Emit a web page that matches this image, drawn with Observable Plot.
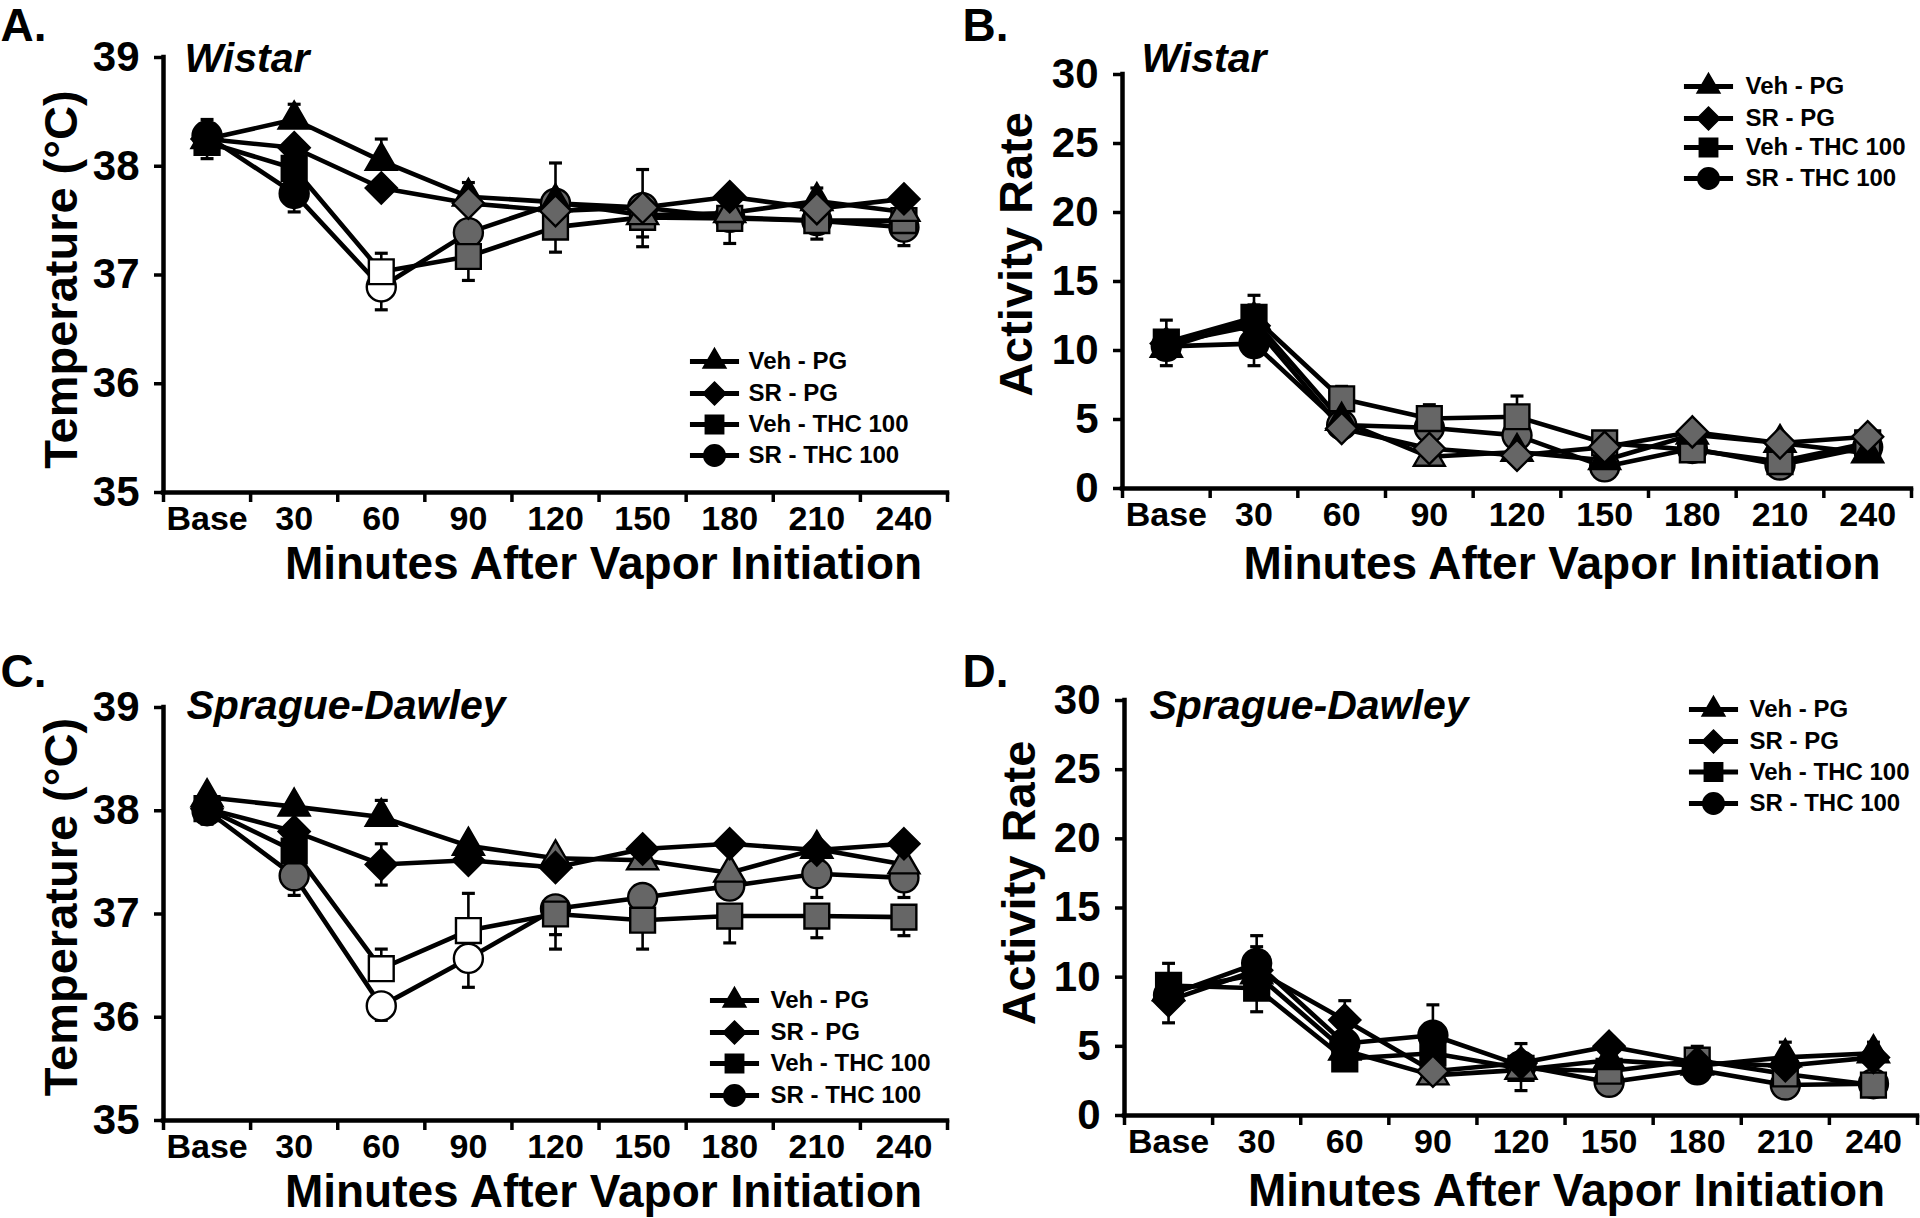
<!DOCTYPE html>
<html><head><meta charset="utf-8">
<script src="https://cdn.jsdelivr.net/npm/d3@7"></script>
<script src="https://cdn.jsdelivr.net/npm/@observablehq/plot@0.6"></script>
<style>
html,body{margin:0;padding:0;background:#fff;}
#fig{position:relative;width:1920px;height:1218px;overflow:hidden;background:#fff;}
#fig > svg{position:absolute;}
</style></head><body><div id="fig"></div>
<script>
// ---------- data ----------
const timeLabels = ["Base", "30", "60", "90", "120", "150", "180", "210", "240"];
const seriesNames = ["Veh - PG", "SR - PG", "Veh - THC 100", "SR - THC 100"];
const tempTicks = [35, 36, 37, 38, 39];
const activityTicks = [0, 5, 10, 15, 20, 25, 30];

// Panel A: Wistar temperature (°C)
const A_VehPG  = [38.25, 38.43, 38.05, 37.72, 37.67, 37.55, 37.57, 37.68, 37.58];
const A_SRPG   = [38.25, 38.17, 37.80, 37.66, 37.59, 37.62, 37.72, 37.61, 37.70];
const A_VehTHC = [38.22, 37.98, 37.03, 37.17, 37.44, 37.53, 37.52, 37.50, 37.50];
const A_SRTHC  = [38.28, 37.75, 36.89, 37.39, 37.66, 37.62, 37.53, 37.50, 37.44];
// marker fill category per point: k = black, g = grey, w = open
const A_fillVehPG = "kkkkkggkg", A_fillSRPG = "kkkgggkgk", A_fillVehTHC = "kkwgggggg", A_fillSRTHC = "kkwgggggg";
// SEM (signed: + drawn above, - drawn below; [lo, hi] both)
const A_semVehPG  = [null, 0.14, 0.20, 0.13, null, -0.20, null, 0.12, null];
const A_semSRPG   = [null, null, null, null, null, null, null, null, null];
const A_semVehTHC = [-0.15, null, 0.17, -0.22, -0.23, -0.27, -0.23, -0.17, null];
const A_semSRTHC  = [0.15, -0.17, -0.21, null, 0.37, 0.35, null, null, -0.17];

// Panel B: Wistar activity rate
const B_VehPG  = [10.2, 12.2, 4.9, 2.3, 2.65, 2.05, 3.9, 3.3, 2.55];
const B_SRPG   = [10.5, 11.8, 4.35, 2.9, 2.4, 3.0, 4.1, 3.3, 3.75];
const B_VehTHC = [10.6, 12.4, 6.5, 5.07, 5.2, 3.3, 2.8, 1.95, 3.3];
const B_SRTHC  = [10.3, 10.5, 4.6, 4.4, 3.85, 1.57, 2.9, 1.7, 3.0];
const B_fillVehPG = "kkkgkkkkk", B_fillSRPG = "kkggggggg", B_fillVehTHC = "kkggggggg", B_fillSRTHC = "kkggggggg";
const B_semVehPG  = [null, 1.1, null, null, null, null, null, null, null];
const B_semSRPG   = [null, null, null, null, null, null, null, null, null];
const B_semVehTHC = [1.6, 1.6, 0.9, 1.0, 1.5, null, null, null, null];
const B_semSRTHC  = [-1.4, -1.6, null, null, null, null, null, null, null];

// Panel C: Sprague-Dawley temperature (°C)
const C_VehPG  = [38.13, 38.04, 37.94, 37.66, 37.54, 37.52, 37.40, 37.63, 37.48];
const C_SRPG   = [38.02, 37.80, 37.48, 37.52, 37.45, 37.63, 37.68, 37.62, 37.68];
const C_VehTHC = [38.02, 37.61, 36.47, 36.84, 37.00, 36.94, 36.98, 36.98, 36.97];
const C_SRTHC  = [38.00, 37.37, 36.11, 36.57, 37.05, 37.16, 37.27, 37.39, 37.35];
const C_fillVehPG = "kkkkgggkg", C_fillSRPG = "kkkkkkkkk", C_fillVehTHC = "kkwwggggg", C_fillSRTHC = "kgwwggggg";
const C_semVehPG  = [null, null, 0.16, null, null, null, null, null, null];
const C_semSRPG   = [null, null, [-0.2, 0.2], null, null, null, null, null, null];
const C_semVehTHC = [-0.15, null, 0.19, 0.36, -0.34, -0.28, -0.26, -0.21, -0.18];
const C_semSRTHC  = [null, -0.19, -0.14, -0.28, -0.25, null, -0.11, -0.23, -0.19];

// Panel D: Sprague-Dawley activity rate
const D_VehPG  = [9.0, 10.2, 4.7, 2.9, 3.3, 4.0, 3.6, 4.2, 4.5];
const D_SRPG   = [8.3, 10.5, 6.9, 3.2, 3.8, 5.0, 3.8, 3.6, 4.2];
const D_VehTHC = [9.4, 9.2, 4.1, 4.5, 3.4, 3.2, 4.0, 3.0, 2.2];
const D_SRTHC  = [8.7, 11.0, 5.2, 5.8, 3.6, 2.4, 3.3, 2.2, 2.3];
const D_fillVehPG = "kkkggkkkk", D_fillSRPG = "kkkgkkkkk", D_fillVehTHC = "kkkkggggg", D_fillSRTHC = "kkkkkgkgg";
const D_semVehPG  = [null, 2.0, null, null, [-1.5, 1.9], null, null, 1.1, 0.8];
const D_semSRPG   = [-1.6, null, 1.4, null, null, null, null, null, null];
const D_semVehTHC = [1.6, -1.7, null, null, null, null, 1.0, null, null];
const D_semSRTHC  = [null, 2.0, null, 2.2, null, -0.7, null, null, null];

// ---------- styling / layout ----------
const FONT = "'Liberation Sans', Arial, Helvetica, sans-serif";
const fillColor = {k: "#000000", g: "#666666", w: "#ffffff"};
const symbols = ["triangle", "diamond2", "square", "circle"];
const radii = [11.5, 14, 14, 14.5];
const drawOrder = [3, 2, 0, 1];
const capSymbol = {draw(ctx, size) { const w = Math.sqrt(size) / 2; ctx.moveTo(-w, 0); ctx.lineTo(w, 0); }};
const hlineSymbol = capSymbol;

const panels = [
  {letter: "A.", strain: "Wistar", yLabel: "Temperature (°C)", yDomain: [35, 39], yTicks: tempTicks,
   values: [A_VehPG, A_SRPG, A_VehTHC, A_SRTHC], fills: [A_fillVehPG, A_fillSRPG, A_fillVehTHC, A_fillSRTHC],
   sems: [A_semVehPG, A_semSRPG, A_semVehTHC, A_semSRTHC],
   left: 0, top: 0, m: {l: 163, r: 13, t: 57, b: 117},
   letterPos: [-163, -31], strainPos: [21, 1], yTitle: [-102, 4.5], xTitle: [48, 72],
   legend: {mx: 551, tx: 585, dy: [304, 336, 367, 398]}},
  {letter: "B.", strain: "Wistar", yLabel: "Activity Rate", yDomain: [0, 30], yTicks: activityTicks,
   values: [B_VehPG, B_SRPG, B_VehTHC, B_SRTHC], fills: [B_fillVehPG, B_fillSRPG, B_fillVehTHC, B_fillSRTHC],
   sems: [B_semVehPG, B_semSRPG, B_semVehTHC, B_semSRTHC],
   left: 960, top: 0, m: {l: 162, r: 9, t: 74, b: 121},
   letterPos: [-160, -48], strainPos: [19, -16], yTitle: [-106, -27], xTitle: [45, 76],
   legend: {mx: 586, tx: 623, dy: [12, 44, 73, 104]}},
  {letter: "C.", strain: "Sprague-Dawley", yLabel: "Temperature (°C)", yDomain: [35, 39], yTicks: tempTicks,
   values: [C_VehPG, C_SRPG, C_VehTHC, C_SRTHC], fills: [C_fillVehPG, C_fillSRPG, C_fillVehTHC, C_fillSRTHC],
   sems: [C_semVehPG, C_semSRPG, C_semVehTHC, C_semSRTHC],
   left: 0, top: 609, m: {l: 163, r: 13, t: 98, b: 98},
   letterPos: [-163, -35], strainPos: [23, -2], yTitle: [-102, -7], xTitle: [48, 72],
   legend: {mx: 571, tx: 607, dy: [293, 325, 356, 388]}},
  {letter: "D.", strain: "Sprague-Dawley", yLabel: "Activity Rate", yDomain: [0, 30], yTicks: activityTicks,
   values: [D_VehPG, D_SRPG, D_VehTHC, D_SRTHC], fills: [D_fillVehPG, D_fillSRPG, D_fillVehTHC, D_fillSRTHC],
   sems: [D_semVehPG, D_semSRPG, D_semVehTHC, D_semSRTHC],
   left: 960, top: 609, m: {l: 164, r: 3, t: 91, b: 103},
   letterPos: [-162, -28], strainPos: [25, 5], yTitle: [-105, -25], xTitle: [45.5, 76],
   legend: {mx: 589, tx: 625, dy: [9, 41, 71.5, 103]}}
];

const fig = document.getElementById("fig");
const bandEdges = d3.range(timeLabels.length + 1).map(k => k - 0.5);

for (const p of panels) {
  const pts = [];
  const errs = [];
  p.values.forEach((vals, s) => vals.forEach((v, i) => {
    pts.push({s, i, v, fill: fillColor[p.fills[s][i]]});
    const e = p.sems[s][i];
    if (e == null) return;
    const parts = Array.isArray(e) ? e : [e];
    for (const d of parts) errs.push({s, i, v, end: v + d});
  }));

  const txt = {fill: "black", fontWeight: "bold", lineAnchor: "middle"};
  const marks = [
    // error bars (behind everything)
    Plot.ruleX(errs, {x: "i", y1: "v", y2: "end", stroke: "black", strokeWidth: 2.6}),
    Plot.dot(errs, {x: "i", y: "end", symbol: capSymbol, r: 7.3, fill: "none", stroke: "black", strokeWidth: 3.2}),
    // connecting lines
    ...d3.range(4).map(s => Plot.line(pts.filter(d => d.s === s), {x: "i", y: "v", stroke: "black", strokeWidth: 4.6, strokeLinejoin: "round"})),
    // markers
    ...drawOrder.map(s => Plot.dot(pts.filter(d => d.s === s), {x: "i", y: "v", symbol: symbols[s], r: radii[s], fill: "fill", stroke: "black", strokeWidth: 2.4})),
    // axes
    Plot.axisY({ticks: p.yTicks, tickSize: 9, tickPadding: 15, fontSize: 42, strokeWidth: 3.5, tickFormat: d => String(d), label: null}),
    Plot.axisX({ticks: bandEdges, tickSize: 10, strokeWidth: 3.5, fill: "none", label: null}),
    Plot.axisX({ticks: d3.range(timeLabels.length), tickSize: 0, tickPadding: 13, fontSize: 34, tickFormat: i => timeLabels[i], label: null}),
    Plot.ruleX([bandEdges[0]], {stroke: "black", strokeWidth: 4.5, strokeLinecap: "square"}),
    Plot.ruleY([p.yDomain[0]], {stroke: "black", strokeWidth: 4.5, strokeLinecap: "square"}),
    // texts
    Plot.text([p.letter], {...txt, text: d => d, frameAnchor: "top-left", dx: p.letterPos[0], dy: p.letterPos[1], textAnchor: "start", fontSize: 46}),
    Plot.text([p.strain], {...txt, text: d => d, frameAnchor: "top-left", dx: p.strainPos[0], dy: p.strainPos[1], textAnchor: "start", fontSize: 41, fontStyle: "italic"}),
    Plot.text([p.yLabel], {...txt, text: d => d, frameAnchor: "left", dx: p.yTitle[0], dy: p.yTitle[1], textAnchor: "middle", rotate: -90, fontSize: 47}),
    Plot.text(["Minutes After Vapor Initiation"], {...txt, text: d => d, frameAnchor: "bottom", dx: p.xTitle[0], dy: p.xTitle[1], textAnchor: "middle", fontSize: 46})
  ];
  // legend
  seriesNames.forEach((name, k) => {
    const dy = p.legend.dy[k];
    marks.push(
      Plot.dot([name], {frameAnchor: "top-left", dx: p.legend.mx, dy, symbol: hlineSymbol, r: 27.7, fill: "none", stroke: "black", strokeWidth: 5}),
      Plot.dot([name], {frameAnchor: "top-left", dx: p.legend.mx, dy, symbol: symbols[k], r: radii[k] * 0.74, fill: "black", stroke: "black", strokeWidth: 1.5}),
      Plot.text([name], {...txt, text: d => d, frameAnchor: "top-left", dx: p.legend.tx, dy, textAnchor: "start", fontSize: 24})
    );
  });

  const svg = Plot.plot({
    width: 960, height: 609,
    marginLeft: p.m.l, marginRight: p.m.r, marginTop: p.m.t, marginBottom: p.m.b,
    x: {type: "linear", domain: [bandEdges[0], bandEdges[bandEdges.length - 1]]},
    y: {type: "linear", domain: p.yDomain},
    color: {type: "identity"},
    style: {fontFamily: FONT, fontWeight: "bold", color: "black", background: "transparent", overflow: "visible"},
    marks
  });
  svg.style.left = p.left + "px";
  svg.style.top = p.top + "px";
  fig.appendChild(svg);
}
</script></body></html>
